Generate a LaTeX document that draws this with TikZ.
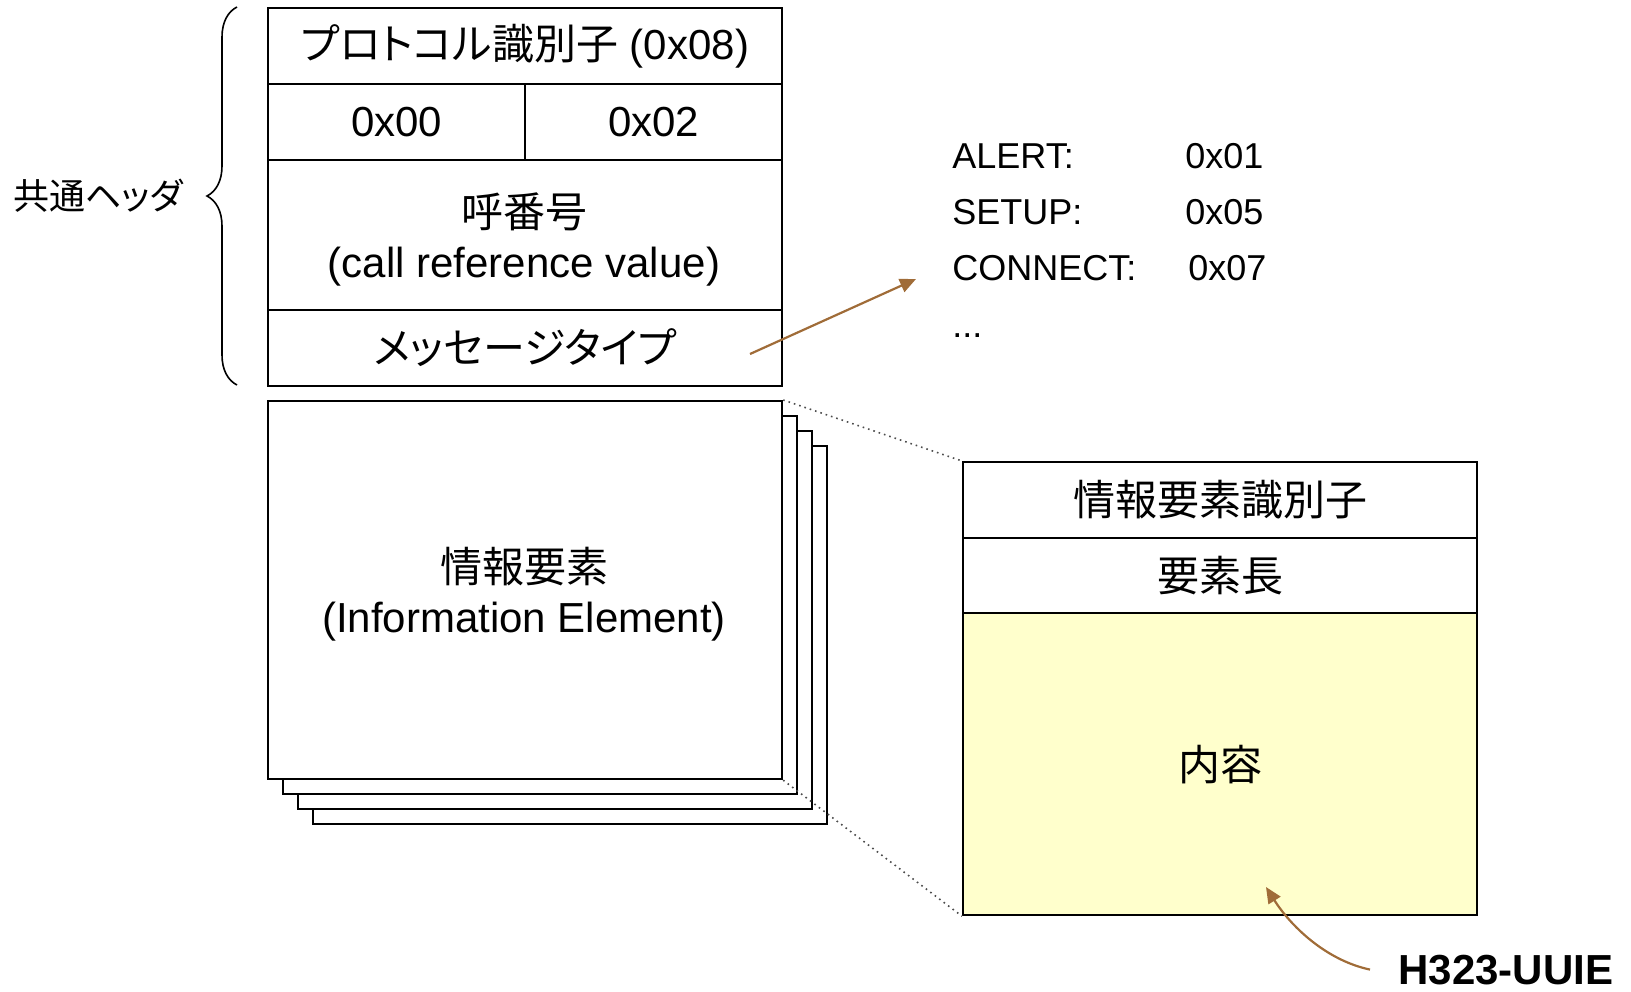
\documentclass[tikz,border=0pt]{standalone}
\usepackage{fontspec}
\setmainfont{Liberation Sans}
\newfontfamily\jp[RawFeature=+palt]{Noto Sans CJK JP}
\usetikzlibrary{arrows.meta,decorations.pathreplacing}
\definecolor{brn}{RGB}{160,108,56}
\definecolor{pale}{RGB}{255,255,204}
\begin{document}
\begin{tikzpicture}[x=0.5pt,y=-0.5pt,
  cell/.style={draw, line width=1.1pt, inner sep=0pt, anchor=north west, align=center,
               font=\fontsize{21}{25}\selectfont, fill=white},
  celltext/.style={inner sep=0pt, align=center, font=\fontsize{21}{25}\selectfont},
  lst/.style={anchor=base west, inner sep=0pt, font=\fontsize{18}{22}\selectfont},
  brarrow/.style={draw=brn, line width=1.1pt, -{Triangle[length=8pt,width=7pt]}},
  zoomline/.style={black!70, dotted, line width=0.8pt},
  bracestyle/.style={decorate, decoration={brace, amplitude=15pt}, line width=0.8pt}]
\useasboundingbox (0,0) rectangle (1631,991);

% common header
\node[cell, minimum width=257pt, minimum height=38pt] (proto) at (267,7) {{\jp プロトコル識別子} (0x08)};
\node[cell, minimum width=128.5pt, minimum height=38pt] (c00) at (267,83) {0x00};
\node[cell, minimum width=128.5pt, minimum height=38pt] (c02) at (524,83) {0x02};
\node[cell, minimum width=257pt, minimum height=75pt] (callref) at (267,159) {};
\node[celltext] (callreftext) at (524,239) {{\jp 呼番号}\\(call reference value)};
\node[cell, minimum width=257pt, minimum height=38pt] (msgtype) at (267,309) {\jp メッセージタイプ};

% brace
\coordinate (bt) at (237,7);
\coordinate (bb) at (237,385);
\draw[bracestyle] (bb) -- (bt);
\node[inner sep=0pt, font=\fontsize{18}{21}\selectfont] (hdr) at (98,196) {\jp 共通ヘッダ};

% information elements (stack)
\node[cell, minimum width=257pt, minimum height=189pt] (s3) at (312,445) {};
\node[cell, minimum width=257pt, minimum height=189pt] (s2) at (297,430) {};
\node[cell, minimum width=257pt, minimum height=189pt] (s1) at (282,415) {};
\node[cell, minimum width=257pt, minimum height=189pt] (ie) at (267,400) {};
\node[celltext] (ietext) at (524,594) {{\jp 情報要素}\\(Information Element)};

% detailed IE
\node[cell, minimum width=257pt, minimum height=38pt] (ieid) at (962,461) {\jp 情報要素識別子};
\node[cell, minimum width=257pt, minimum height=37.5pt] (ielen) at (962,537) {\jp 要素長};
\node[cell, minimum width=257pt, minimum height=151pt, fill=pale] (content) at (962,612) {\jp 内容};

\draw[zoomline] (ie.north east) -- (ieid.north west);
\draw[zoomline] (ie.south east) -- (content.south west);

% message type list
\node[lst] (alert) at (952,168) {ALERT:};
\node[lst] (alertv) at (1185,168) {0x01};
\node[lst] (setup) at (952,224) {SETUP:};
\node[lst] (setupv) at (1185,224) {0x05};
\node[lst] (conn) at (952,280) {CONNECT:};
\node[lst] (connv) at (1188,280) {0x07};
\node[lst] (dots) at (952,337) {...};

\coordinate (a1s) at (750,354);
\coordinate (a1e) at (916,279);
\draw[brarrow] (a1s) -- (a1e);

% H323-UUIE
\node[anchor=base west, inner sep=0pt, font=\bfseries\fontsize{21}{25}\selectfont] (h323) at (1398,984) {H323-UUIE};
\coordinate (a2e) at (1266,887);
\draw[brarrow] ([xshift=-14pt]h323.west) .. controls (1325,960) and (1290,925) .. (a2e);
\end{tikzpicture}
\end{document}
